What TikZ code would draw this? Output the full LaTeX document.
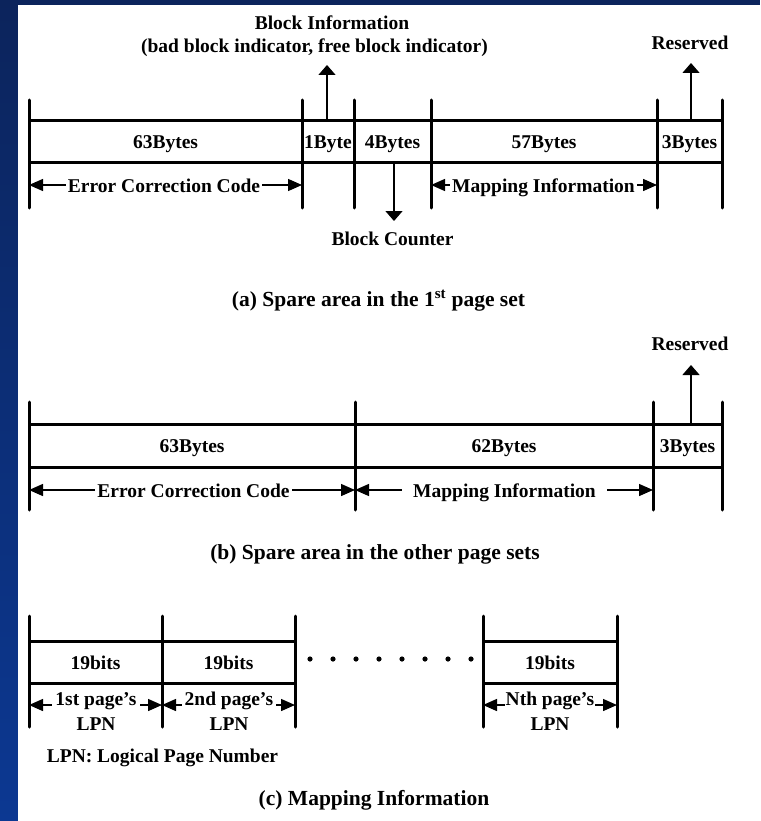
\documentclass[tikz,border=0pt]{standalone}
\usepackage{fontspec}
\setmainfont{Liberation Serif}
\usetikzlibrary{arrows.meta}
\definecolor{navytop}{RGB}{12,36,92}
\definecolor{navybot}{RGB}{12,56,146}
\begin{document}
\begin{tikzpicture}[x=1pt,y=-1pt,
  bar/.style={line width=3pt,line cap=round},
  hbar/.style={line width=3pt},
  harr/.style={line width=1.4pt,{Triangle[length=14pt,width=12pt]}-{Triangle[length=14pt,width=12pt]}},
  varr/.style={line width=1.4pt,-{Triangle[length=10pt,width=17pt]}},
  lbl/.style={font=\fontsize{19.5}{23}\selectfont\bfseries,inner sep=0pt,anchor=base},
  onl/.style={lbl,fill=white,inner xsep=2pt,inner ysep=1pt},
  capt/.style={font=\fontsize{21.5}{25}\selectfont\bfseries,inner sep=0pt,anchor=base},
  dotc/.style={fill=black}]
\useasboundingbox (0,0) rectangle (760,821);
% background
\fill[navytop] (0,0) rectangle (760,5);
\shade[top color=navytop,bottom color=navybot] (0,0) rectangle (18,821);
\fill[white] (18,5) rectangle (760,821);

% ================= (a) =================
\foreach \n/\x in {a0/29,a1/302,a2/354,a3/431,a4/657,a5/722}{
  \coordinate (\n t) at (\x,100);
  \coordinate (\n b) at (\x,208);
  \draw[bar] (\n t) -- (\n b);
}
\coordinate (aTL) at (29,121); \coordinate (aTR) at (722,121);
\coordinate (aBL) at (29,163); \coordinate (aBR) at (722,163);
\draw[hbar] (aTL) -- (aTR);
\draw[hbar] (aBL) -- (aBR);
\node[lbl] (a63) at (165.5,148.5) {63Bytes};
\node[lbl] (a1B) at (328,148.5) {1Byte};
\node[lbl] (a4B) at (392.5,148.5) {4Bytes};
\node[lbl] (a57) at (544,148.5) {57Bytes};
\node[lbl] (a3B) at (689.5,148.5) {3Bytes};
% ECC arrow
\coordinate (aE1) at (29,185); \coordinate (aE2) at (302,185);
\draw[harr] (aE1) -- (aE2);
\node[onl] (aECC) at (164,192.5) {Error Correction Code};
% Mapping arrow
\coordinate (aM1) at (431,185); \coordinate (aM2) at (657,185);
\draw[harr] (aM1) -- (aM2);
\node[onl] (aMAP) at (543.5,192.5) {Mapping Information};
% Block information
\coordinate (aBIs) at (327,121); \coordinate (aBIe) at (327,65);
\draw[varr] (aBIs) -- (aBIe);
\node[lbl] (aBI1) at (332,29.5) {Block Information};
\node[lbl] (aBI2) at (314.5,52.5) {(bad block indicator, free block indicator)};
% Block counter
\coordinate (aBCs) at (394,163); \coordinate (aBCe) at (394,221);
\draw[varr] (aBCs) -- (aBCe);
\node[lbl] (aBC) at (392.5,245) {Block Counter};
% Reserved
\coordinate (aRs) at (691,121); \coordinate (aRe) at (691,63);
\draw[varr] (aRs) -- (aRe);
\node[lbl] (aRes) at (690,50) {Reserved};
\node[capt] (capA) at (378.5,306) {(a) Spare area in the 1\textsuperscript{st} page set};

% ================= (b) =================
\foreach \n/\x in {b0/29,b1/355,b2/653,b3/722}{
  \coordinate (\n t) at (\x,402);
  \coordinate (\n b) at (\x,510);
  \draw[bar] (\n t) -- (\n b);
}
\coordinate (bTL) at (29,424); \coordinate (bTR) at (722,424);
\coordinate (bBL) at (29,467); \coordinate (bBR) at (722,467);
\draw[hbar] (bTL) -- (bTR);
\draw[hbar] (bBL) -- (bBR);
\node[lbl] (b63) at (192,452.5) {63Bytes};
\node[lbl] (b62) at (504,452.5) {62Bytes};
\node[lbl] (b3B) at (687.5,452.5) {3Bytes};
\coordinate (bE1) at (29,490); \coordinate (bE2) at (355,490);
\draw[harr] (bE1) -- (bE2);
\node[onl] (bECC) at (193.5,497.5) {Error Correction Code};
\coordinate (bM1) at (355,490); \coordinate (bM2) at (653,490);
\draw[harr] (bM1) -- (bM2);
\node[onl,inner xsep=11pt] (bMAP) at (504.5,497.5) {Mapping Information};
\coordinate (bRs) at (691,424); \coordinate (bRe) at (691,365);
\draw[varr] (bRs) -- (bRe);
\node[lbl] (bRes) at (690,350) {Reserved};
\node[capt] (capB) at (375,559.5) {(b) Spare area in the other page sets};

% ================= (c) =================
\foreach \n/\x in {c0/29,c1/162,c2/295,c3/483,c4/617}{
  \coordinate (\n t) at (\x,616);
  \coordinate (\n b) at (\x,727);
  \draw[bar] (\n t) -- (\n b);
}
\coordinate (cTL) at (29,641); \coordinate (cTM) at (295,641);
\coordinate (cBL) at (29,683); \coordinate (cBM) at (295,683);
\coordinate (cTN) at (483,641); \coordinate (cTR) at (617,641);
\coordinate (cBN) at (483,683); \coordinate (cBR) at (617,683);
\draw[hbar] (cTL) -- (cTM);
\draw[hbar] (cBL) -- (cBM);
\draw[hbar] (cTN) -- (cTR);
\draw[hbar] (cBN) -- (cBR);
\node[lbl] (c19a) at (95.5,669) {19bits};
\node[lbl] (c19b) at (228.5,669) {19bits};
\node[lbl] (c19n) at (550,669) {19bits};
\foreach \k in {0,...,7}{
  \fill[dotc] (310+23*\k,659) circle (2.6);
}
\coordinate (cA1) at (29,705); \coordinate (cA2) at (162,705);
\coordinate (cA3) at (295,705);
\coordinate (cA4) at (483,705); \coordinate (cA5) at (617,705);
\draw[harr] (cA1) -- (cA2);
\draw[harr] (cA2) -- (cA3);
\draw[harr] (cA4) -- (cA5);
\node[onl,inner xsep=3pt] (cL1) at (96,705) {1st page’s};
\node[lbl] (cL1b) at (96,730.5) {LPN};
\node[onl,inner xsep=3pt] (cL2) at (229,705) {2nd page’s};
\node[lbl] (cL2b) at (229,730.5) {LPN};
\node[onl,inner xsep=1pt] (cLN) at (550,705) {Nth page’s};
\node[lbl] (cLNb) at (550,730.5) {LPN};
\node[lbl] (cLPN) at (162.5,762) {LPN: Logical Page Number};
\node[capt] (capC) at (374,805) {(c) Mapping Information};
\end{tikzpicture}
\end{document}
